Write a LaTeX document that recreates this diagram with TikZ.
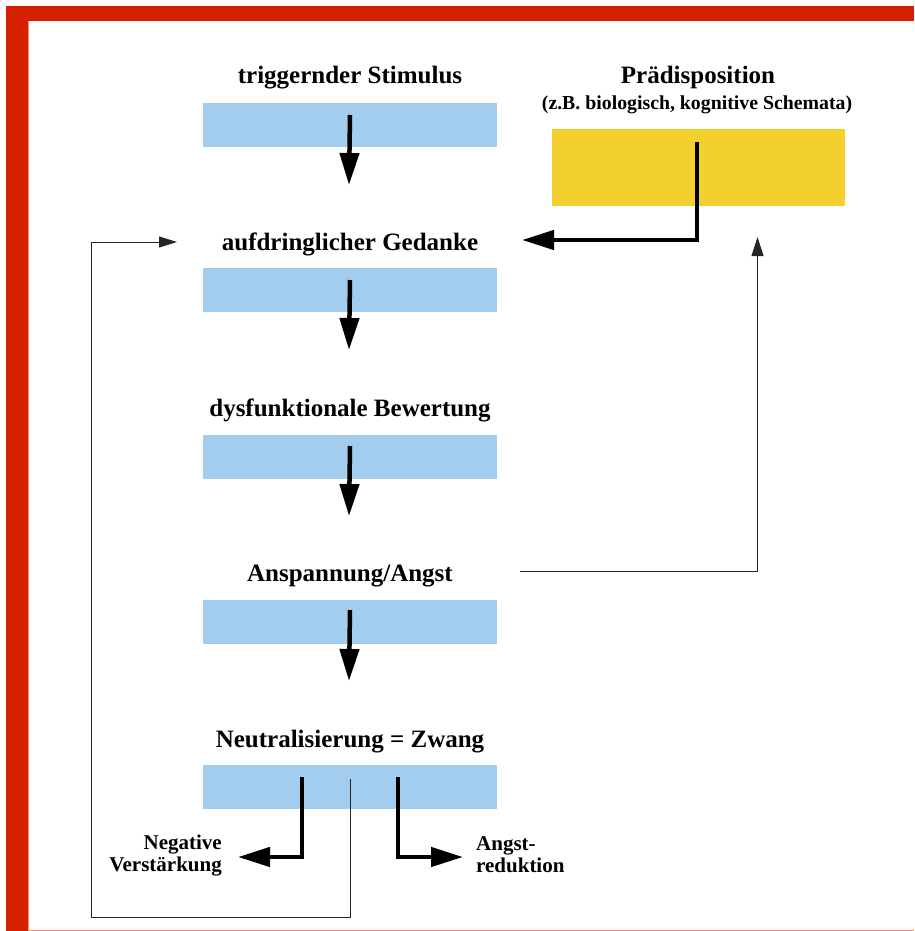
\documentclass[tikz,border=0pt]{standalone}
\usepackage{fontspec}
\setmainfont{Liberation Serif}
\usetikzlibrary{arrows.meta}
\definecolor{framered}{HTML}{D42000}
\definecolor{framepink}{HTML}{F0907A}
\definecolor{boxblue}{HTML}{A3CDEE}
\definecolor{boxyellow}{HTML}{F4D02E}
\begin{document}
\begin{tikzpicture}[x=1pt,y=-1pt,
  bluebox/.style={fill=boxblue,draw=none,minimum width=294pt,minimum height=44pt,inner sep=0pt},
  yellowbox/.style={fill=boxyellow,draw=none,minimum width=293pt,minimum height=77pt,inner sep=0pt},
  title/.style={font=\fontsize{25}{30}\selectfont\bfseries,anchor=base,inner sep=0pt},
  subtitle/.style={font=\fontsize{19.8}{22}\selectfont\bfseries,anchor=base,inner sep=0pt},
  lab/.style={font=\fontsize{21}{22}\selectfont\bfseries,inner sep=0pt},
  bigarrow/.style={line width=4.5pt,line join=miter,-{Triangle[length=32pt,width=19pt]}},
  thinarrow/.style={line width=1pt,draw=black!85,-{Triangle[length=19pt,width=12pt]}},
  thinline/.style={line width=1pt,draw=black!85}
]
\useasboundingbox (0,0) rectangle (914,931);
% frame
\fill[framered] (6,6) rectangle (914,21);
\fill[framered] (6,6) rectangle (28,931);
\draw[framepink,line width=1pt] (28.5,21) -- (28.5,930.5) -- (914,930.5);

% boxes
\node[bluebox] (b1) at (350,125) {};
\node[bluebox] (b2) at (350,290) {};
\node[bluebox] (b3) at (350,456.5) {};
\node[bluebox] (b4) at (350,622) {};
\node[bluebox] (b5) at (350,787) {};
\node[yellowbox] (p) at (698.5,167.5) {};

% titles
\node[title] (t1) at (350,84) {triggernder Stimulus};
\node[title] (t2) at (350,250) {aufdringlicher Gedanke};
\node[title] (t3) at (350,416) {dysfunktionale Bewertung};
\node[title] (t4) at (350,581) {Anspannung/Angst};
\node[title] (t5) at (350,747) {Neutralisierung = Zwang};
\node[title] (tp) at (698,84) {Prädisposition};
\node[subtitle] (sub) at (697,110) {(z.B. biologisch, kognitive Schemata)};

% bottom labels
\node[lab,anchor=north east,align=right] (nv) at (222,835) {Negative\\Verstärkung};
\node[lab,anchor=north west,align=left] (ar) at (476,836) {Angst-\\reduktion};

% coordinates
\coordinate (a1) at (349,185);
\coordinate (a2) at (349,350);
\coordinate (a3) at (349,516);
\coordinate (a4) at (349,681);
\coordinate (ps) at (697,142);
\coordinate (pc) at (697,240);
\coordinate (pt) at (522,240);
\coordinate (as) at (520,571);
\coordinate (ac) at (757.5,571);
\coordinate (at) at (757.5,237);
\coordinate (ls) at (350.5,779);
\coordinate (lc1) at (350.5,917);
\coordinate (lc2) at (91,917);
\coordinate (lc3) at (91,242);
\coordinate (lt) at (177,242);
\coordinate (ns) at (302,777);
\coordinate (nc) at (302,857);
\coordinate (nt) at (238,857);
\coordinate (rs) at (398,777);
\coordinate (rc) at (398,857);
\coordinate (rt) at (463,857);

% main arrows
\draw[bigarrow] ([yshift=10pt]b1.center) -- (a1);
\draw[bigarrow] ([yshift=10pt]b2.center) -- (a2);
\draw[bigarrow] ([yshift=10.5pt]b3.center) -- (a3);
\draw[bigarrow] ([yshift=12pt]b4.center) -- (a4);
\draw[bigarrow] (ps) -- (pc) -- (pt);
\draw[bigarrow] (ns) -- (nc) -- (nt);
\draw[bigarrow] (rs) -- (rc) -- (rt);

% thin connectors
\draw[thinarrow] (as) -- (ac) -- (at);
\draw[thinarrow,-{Triangle[length=18pt,width=11pt]}] (ls) -- (lc1) -- (lc2) -- (lc3) -- (lt);
\end{tikzpicture}
\end{document}
